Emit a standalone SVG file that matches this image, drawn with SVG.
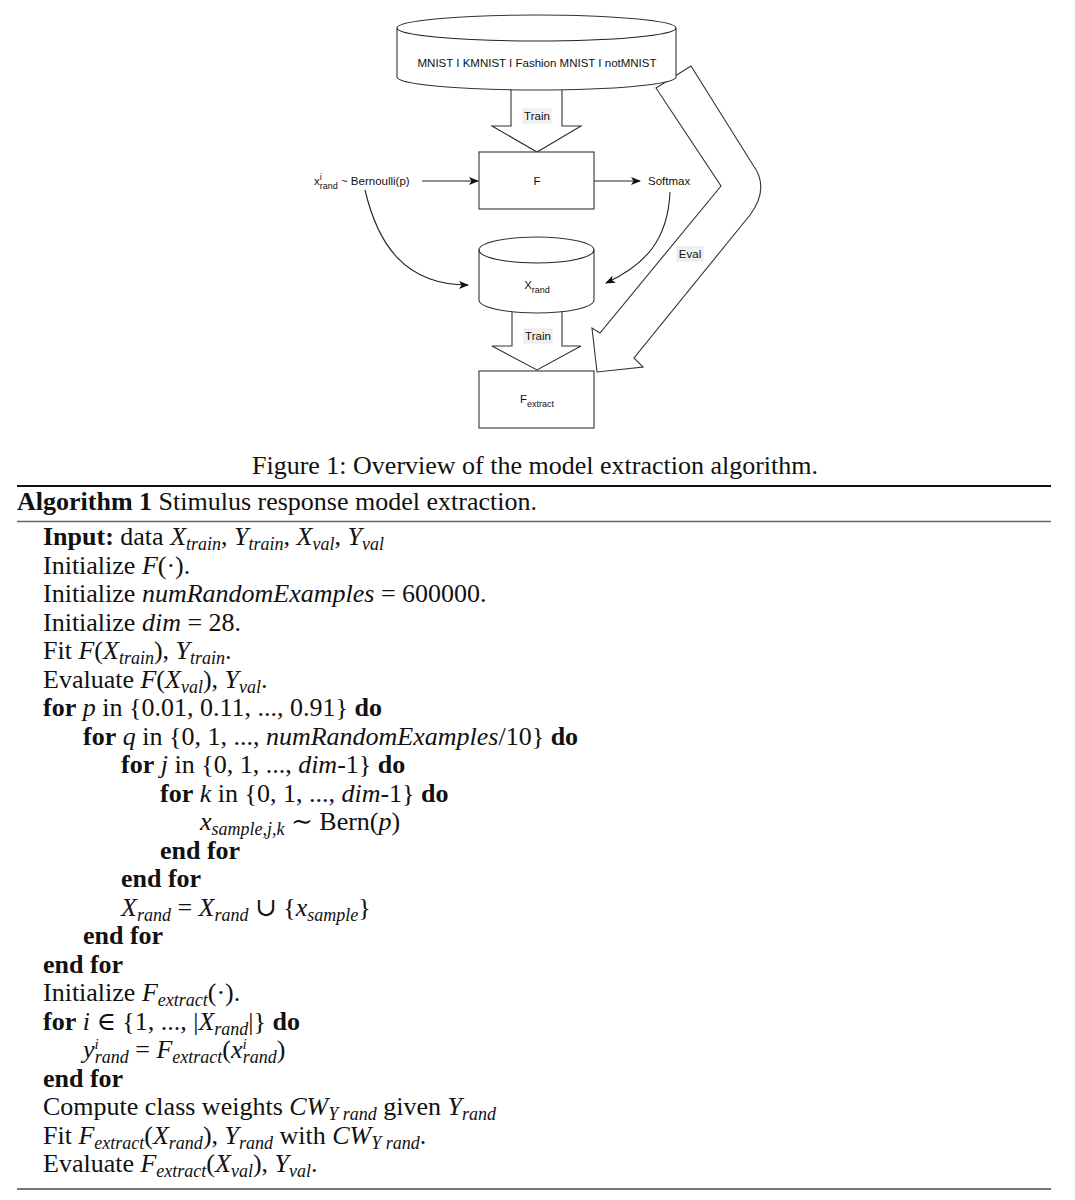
<svg xmlns="http://www.w3.org/2000/svg" width="1075" height="1200" viewBox="0 0 1075 1200">
<style>
.t{font-family:"Liberation Serif","DejaVu Serif",serif;font-size:26px;fill:#111}
.b{font-weight:bold}
.i{font-style:italic}
.s{font-size:18px;font-style:italic}
.sp{font-size:15px;font-style:italic}
.d{font-family:"Liberation Sans",Arial,sans-serif;font-size:11.5px;fill:#111}
.ds{font-family:"Liberation Sans",Arial,sans-serif;font-size:9px;fill:#111}
.shape{fill:#fff;stroke:#333;stroke-width:1.1}
.line{fill:none;stroke:#222;stroke-width:1.1}
.lbl{fill:#f1f1f1;stroke:#ddd;stroke-width:0.6}
</style>
<defs>
<marker id="ah" markerWidth="10" markerHeight="8" refX="9" refY="4" orient="auto" markerUnits="userSpaceOnUse">
<path d="M0,0 L10,4 L0,8 L2.5,4 Z" fill="#111"/>
</marker>
</defs>
<rect width="1075" height="1200" fill="#fff"/>

<g id="connectors">
<line class="line" x1="422" y1="181" x2="478" y2="181" marker-end="url(#ah)"/>
<line class="line" x1="594" y1="181" x2="640" y2="181" marker-end="url(#ah)"/>
<path class="line" d="M365,190 C378,245 405,285 468,285" marker-end="url(#ah)"/>
<path class="line" d="M670,192 C668,240 645,265 606,283" marker-end="url(#ah)"/>
<g id="train-arrow-1">
<polygon class="shape" points="511,82 511,126 492,126 537,152 581,126 562,126 562,82"/>
<rect class="lbl" x="523" y="109" width="28" height="14"/>
<text class="d" x="537" y="120" text-anchor="middle">Train</text>
</g>
<g id="train-arrow-2">
<polygon class="shape" points="512,305 512,346 492,346 537,370 581,346 562,346 562,305"/>
<rect class="lbl" x="524" y="329" width="28" height="14"/>
<text class="d" x="538" y="340" text-anchor="middle">Train</text>
</g>
<g id="eval-arrow">
<path class="shape" d="M656,88 L691,66 L753,165 Q770,188 750,215 L634,358 L643,367 L597,372 L592,328 L600,333 L721,186 Z"/>
<rect class="lbl" x="677" y="247" width="26" height="14"/>
<text class="d" x="690" y="258" text-anchor="middle">Eval</text>
</g>
</g>

<g id="datasets">
<path class="shape" d="M397,28 L397,77 A139.5,13 0 0 0 676,77 L676,28 A139.5,13 0 0 0 397,28 Z"/>
<path class="line" d="M397,28 A139.5,13 0 0 0 676,28"/>
<text class="d" x="537" y="67" text-anchor="middle">MNIST I KMNIST I Fashion MNIST I notMNIST</text>
</g>

<g id="node-F">
<rect class="shape" x="479" y="152" width="115" height="57"/>
<text class="d" x="537" y="185" text-anchor="middle">F</text>
</g>

<g id="node-bernoulli">
<text class="d" x="314" y="185">x<tspan class="ds" dy="-5">i</tspan><tspan class="ds" dx="-2" dy="9">rand</tspan><tspan dy="-4"> ~ Bernoulli(p)</tspan></text>
</g>

<g id="node-softmax">
<text class="d" x="648" y="185">Softmax</text>
</g>

<g id="node-xrand">
<path class="shape" d="M479,250 L479,300 A57.5,13 0 0 0 594,300 L594,250 A57.5,13 0 0 0 479,250 Z"/>
<path class="line" d="M479,250 A57.5,13 0 0 0 594,250"/>
<text class="d" x="537" y="289" text-anchor="middle">X<tspan class="ds" dy="4">rand</tspan></text>
</g>

<g id="node-fextract">
<rect class="shape" x="479" y="371" width="115" height="57"/>
<text class="d" x="537" y="403" text-anchor="middle">F<tspan class="ds" dy="4">extract</tspan></text>
</g>

<g id="caption">
<text class="t" x="535" y="474" text-anchor="middle">Figure 1: Overview of the model extraction algorithm.</text>
</g>

<g id="algorithm">
<line x1="17" y1="486" x2="1051" y2="486" stroke="#111" stroke-width="2.2"/>
<text class="t" x="17" y="510"><tspan class="b">Algorithm 1</tspan> Stimulus response model extraction.</text>
<line x1="17" y1="521.5" x2="1051" y2="521.5" stroke="#666" stroke-width="1.3"/>

<text class="t" x="43" y="545"><tspan class="b">Input:</tspan> data <tspan class="i">X</tspan><tspan class="s" dy="5">train</tspan><tspan dy="-5">, </tspan><tspan class="i">Y</tspan><tspan class="s" dy="5">train</tspan><tspan dy="-5">, </tspan><tspan class="i">X</tspan><tspan class="s" dy="5">val</tspan><tspan dy="-5">, </tspan><tspan class="i">Y</tspan><tspan class="s" dy="5">val</tspan></text>
<text class="t" x="43" y="573.5">Initialize <tspan class="i">F</tspan>(·).</text>
<text class="t" x="43" y="602">Initialize <tspan class="i">numRandomExamples</tspan> = 600000.</text>
<text class="t" x="43" y="630.5">Initialize <tspan class="i">dim</tspan> = 28.</text>
<text class="t" x="43" y="659">Fit <tspan class="i">F</tspan>(<tspan class="i">X</tspan><tspan class="s" dy="5">train</tspan><tspan dy="-5">), </tspan><tspan class="i">Y</tspan><tspan class="s" dy="5">train</tspan><tspan dy="-5">.</tspan></text>
<text class="t" x="43" y="687.5">Evaluate <tspan class="i">F</tspan>(<tspan class="i">X</tspan><tspan class="s" dy="5">val</tspan><tspan dy="-5">), </tspan><tspan class="i">Y</tspan><tspan class="s" dy="5">val</tspan><tspan dy="-5">.</tspan></text>
<text class="t" x="43" y="716"><tspan class="b">for</tspan> <tspan class="i">p</tspan> in {0.01, 0.11, ..., 0.91} <tspan class="b">do</tspan></text>
<text class="t" x="83" y="744.5"><tspan class="b">for</tspan> <tspan class="i">q</tspan> in {0, 1, ..., <tspan class="i">numRandomExamples</tspan>/10} <tspan class="b">do</tspan></text>
<text class="t" x="121" y="773"><tspan class="b">for</tspan> <tspan class="i">j</tspan> in {0, 1, ..., <tspan class="i">dim</tspan>-1} <tspan class="b">do</tspan></text>
<text class="t" x="160" y="801.5"><tspan class="b">for</tspan> <tspan class="i">k</tspan> in {0, 1, ..., <tspan class="i">dim</tspan>-1} <tspan class="b">do</tspan></text>
<text class="t" x="200" y="830"><tspan class="i">x</tspan><tspan class="s" dy="5">sample,j,k</tspan><tspan dy="-5"> ∼ Bern(</tspan><tspan class="i">p</tspan>)</text>
<text class="t b" x="160" y="858.5">end for</text>
<text class="t b" x="121" y="887">end for</text>
<text class="t" x="121" y="915.5"><tspan class="i">X</tspan><tspan class="s" dy="5">rand</tspan><tspan dy="-5"> = </tspan><tspan class="i">X</tspan><tspan class="s" dy="5">rand</tspan><tspan dy="-5"> ∪ {</tspan><tspan class="i">x</tspan><tspan class="s" dy="5">sample</tspan><tspan dy="-5">}</tspan></text>
<text class="t b" x="83" y="944">end for</text>
<text class="t b" x="43" y="972.5">end for</text>
<text class="t" x="43" y="1001">Initialize <tspan class="i">F</tspan><tspan class="s" dy="5">extract</tspan><tspan dy="-5">(·).</tspan></text>
<text class="t" x="43" y="1029.5"><tspan class="b">for</tspan> <tspan class="i">i</tspan> ∈ {1, ..., |<tspan class="i">X</tspan><tspan class="s" dy="5">rand</tspan><tspan dy="-5">|} </tspan><tspan class="b">do</tspan></text>
<text class="t" x="83" y="1058"><tspan class="i">y</tspan><tspan class="sp" dy="-9">i</tspan><tspan class="s" dx="-4" dy="14">rand</tspan><tspan dy="-5"> = </tspan><tspan class="i">F</tspan><tspan class="s" dy="5">extract</tspan><tspan dy="-5">(</tspan><tspan class="i">x</tspan><tspan class="sp" dy="-9">i</tspan><tspan class="s" dx="-4" dy="14">rand</tspan><tspan dy="-5">)</tspan></text>
<text class="t b" x="43" y="1086.5">end for</text>
<text class="t" x="43" y="1115">Compute class weights <tspan class="i">CW</tspan><tspan class="s" dy="5">Y rand</tspan><tspan dy="-5"> given </tspan><tspan class="i">Y</tspan><tspan class="s" dy="5">rand</tspan></text>
<text class="t" x="43" y="1143.5">Fit <tspan class="i">F</tspan><tspan class="s" dy="5">extract</tspan><tspan dy="-5">(</tspan><tspan class="i">X</tspan><tspan class="s" dy="5">rand</tspan><tspan dy="-5">), </tspan><tspan class="i">Y</tspan><tspan class="s" dy="5">rand</tspan><tspan dy="-5"> with </tspan><tspan class="i">CW</tspan><tspan class="s" dy="5">Y rand</tspan><tspan dy="-5">.</tspan></text>
<text class="t" x="43" y="1172">Evaluate <tspan class="i">F</tspan><tspan class="s" dy="5">extract</tspan><tspan dy="-5">(</tspan><tspan class="i">X</tspan><tspan class="s" dy="5">val</tspan><tspan dy="-5">), </tspan><tspan class="i">Y</tspan><tspan class="s" dy="5">val</tspan><tspan dy="-5">.</tspan></text>
<line x1="17" y1="1189" x2="1051" y2="1189" stroke="#777" stroke-width="2"/>
</g>
</svg>
